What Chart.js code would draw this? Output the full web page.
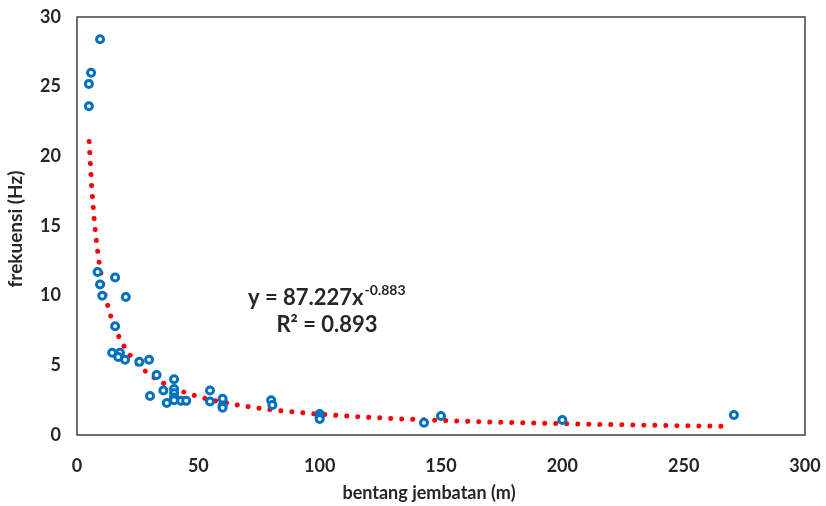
<!DOCTYPE html>
<html lang="id">
<head>
    <meta charset="UTF-8">
    <title>frekuensi vs bentang jembatan</title>
    <script src="https://cdn.jsdelivr.net/npm/chart.js"></script>
    <style>
        html, body {
            margin: 0;
            padding: 0;
            background: #ffffff;
        }
        #wrap {
            width: 826px;
            height: 506px;
        }
    </style>
</head>
<body>
    <div id="wrap"><canvas id="chart" width="826" height="506"></canvas></div>

    <script>
        // bentang jembatan (m) dan frekuensi (Hz)
        const bentang = [4.9, 4.9, 5.8, 9.5, 8.5, 15.7, 9.5, 10.4, 20.1, 15.7,
                         14.5, 17.7, 17.0, 19.8, 25.7, 29.7, 32.8, 30.1, 35.6, 37.0,
                         40, 40, 40, 40, 40, 42.9, 45, 54.8, 54.8, 60,
                         60, 60, 80, 80.5, 100, 100, 100, 143, 150, 200, 270.7];
        const frekuensi = [23.6, 25.2, 26.0, 28.4, 11.7, 11.3, 10.8, 10.0, 9.9, 7.8,
                           5.9, 5.9, 5.6, 5.4, 5.25, 5.4, 4.3, 2.8, 3.2, 2.3,
                           4.0, 3.3, 3.0, 2.7, 2.5, 2.45, 2.45, 3.2, 2.4, 2.6,
                           2.1, 1.95, 2.5, 2.15, 1.5, 1.3, 1.15, 0.88, 1.36, 1.08, 1.43];

        // trendline pangkat dari persamaan di grafik: y = 87.227 x^-0.883
        const trendA = 87.227;
        const trendB = -0.883;
        const trendStart = 5;
        const trendEnd = 267;

        const xTicks = [0, 50, 100, 150, 200, 250, 300];
        const yTicks = [0, 5, 10, 15, 20, 25, 30];

        const points = bentang.map((x, i) => ({ x: x, y: frekuensi[i] }));
        const trend = [];
        for (let x = trendStart; x <= trendEnd; x += 1) {
            trend.push({ x: x, y: trendA * Math.pow(x, trendB) });
        }

        const textColor = '#262626';
        const font = 'Lato, "Open Sans", sans-serif';

        const frameAndText = {
            id: 'frameAndText',
            afterDraw(chart) {
                const ctx = chart.ctx;
                const a = chart.chartArea;
                ctx.save();
                ctx.strokeStyle = '#404040';
                ctx.lineWidth = 1.5;
                ctx.strokeRect(a.left, a.top, a.right - a.left, a.bottom - a.top);

                ctx.fillStyle = textColor;
                // judul sumbu
                ctx.textAlign = 'center';
                ctx.textBaseline = 'middle';
                ctx.font = 'bold 18px ' + font;
                ctx.fillText('bentang jembatan (m)', 429, 493);
                ctx.save();
                ctx.translate(16, 229);
                ctx.rotate(-Math.PI / 2);
                ctx.font = 'bold 19px ' + font;
                ctx.fillText('frekuensi (Hz)', 0, 0);
                ctx.restore();

                // persamaan trendline
                ctx.textAlign = 'left';
                ctx.font = 'bold 22px ' + font;
                const main = 'y = 87.227x';
                ctx.fillText(main, 248, 298);
                const w = ctx.measureText(main).width;
                ctx.font = 'bold 14px ' + font;
                ctx.fillText('-0.883', 248 + w + 1, 290);
                ctx.font = 'bold 22px ' + font;
                ctx.textAlign = 'center';
                ctx.fillText('R² = 0.893', 327, 325);
                ctx.restore();
            }
        };

        new Chart(document.getElementById('chart'), {
            type: 'scatter',
            data: {
                datasets: [
                    {
                        data: points,
                        showLine: false,
                        pointRadius: 3.5,
                        pointBorderWidth: 3,
                        pointBorderColor: '#0070c0',
                        pointBackgroundColor: '#ffffff',
                        order: 1
                    },
                    {
                        data: trend,
                        showLine: true,
                        pointRadius: 0,
                        borderColor: '#ff0000',
                        borderWidth: 5,
                        borderCapStyle: 'round',
                        borderDash: [0.01, 11],
                        tension: 0,
                        order: 2
                    }
                ]
            },
            options: {
                responsive: false,
                animation: false,
                layout: { padding: { top: 17, right: 21, left: 0, bottom: 0 } },
                plugins: {
                    legend: { display: false },
                    tooltip: { enabled: false }
                },
                scales: {
                    x: {
                        type: 'linear',
                        min: 0,
                        max: 300,
                        afterBuildTicks: s => { s.ticks = xTicks.map(v => ({ value: v })); },
                        afterFit: s => { s.height = 71; s.paddingLeft = 0; s.paddingRight = 0; },
                        grid: { display: false, drawTicks: false },
                        border: { display: false },
                        ticks: {
                            padding: 20,
                            maxRotation: 0,
                            color: textColor,
                            font: { family: font, size: 18, weight: 'bold' }
                        }
                    },
                    y: {
                        type: 'linear',
                        min: 0,
                        max: 30,
                        afterBuildTicks: s => { s.ticks = yTicks.map(v => ({ value: v })); },
                        afterFit: s => { s.width = 77; s.paddingTop = 0; s.paddingBottom = 0; },
                        grid: { display: false, drawTicks: false },
                        border: { display: false },
                        ticks: {
                            padding: 16,
                            color: textColor,
                            font: { family: font, size: 18, weight: 'bold' }
                        }
                    }
                }
            },
            plugins: [frameAndText]
        });
    </script>
</body>
</html>
